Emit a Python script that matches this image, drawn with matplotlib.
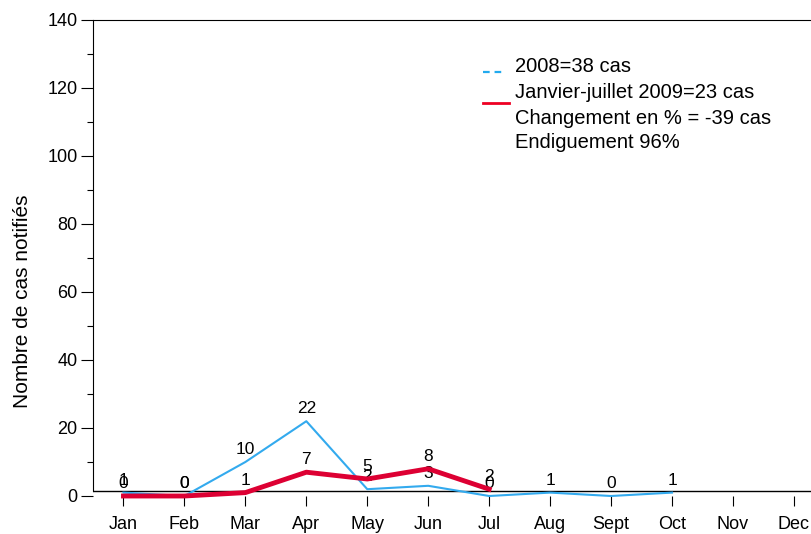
import numpy as np
import matplotlib
matplotlib.use('Agg')
import matplotlib.pyplot as plt
from matplotlib.lines import Line2D

plt.rcParams['font.family'] = ['Liberation Sans', 'DejaVu Sans']

# 月份
months = ['Jan', 'Feb', 'Mar', 'Apr', 'May', 'Jun', 'Jul', 'Aug', 'Sept', 'Oct', 'Nov', 'Dec']
# 2008 病例
cases_2008 = [1, 0, 10, 22, 2, 3, 0, 1, 0, 1]
# 2009 一月到七月
cases_2009 = [0, 0, 1, 7, 5, 8, 2]

legend_labels = ['2008=38 cas', 'Janvier-juillet 2009=23 cas',
                 'Changement en % = -39 cas', 'Endiguement 96%']

W, H = 811, 534
fig = plt.figure(figsize=(W / 100, H / 100), dpi=100)
ax = fig.add_axes([93 / W, 38 / H, 1 - 93 / W, 476 / H])

x08 = np.arange(len(cases_2008))
x09 = np.arange(len(cases_2009))
ax.plot(x08, cases_2008, color='#33aaee', lw=1.5, clip_on=False, zorder=3)
ax.plot(x09, cases_2009, color='#dd0033', lw=3.5, clip_on=False, zorder=4)

# 数据标签
for x, v in zip(x08, cases_2008):
    ax.annotate(str(v), (x, v), xytext=(0, 3.5), textcoords='offset points',
                ha='center', va='bottom', fontsize=12.5)
for x, v in zip(x09, cases_2009):
    ax.annotate(str(v), (x, v), xytext=(0, 3.5), textcoords='offset points',
                ha='center', va='bottom', fontsize=12.5)

ax.set_xlim(-0.5, 11.28)
ax.set_ylim(0, 140)
ax.set_xticks(np.arange(len(months)))
ax.set_xticklabels(months)
ax.set_yticks(np.arange(0, 141, 20))
ax.set_yticks(np.arange(10, 140, 20), minor=True)

ax.spines['right'].set_visible(False)
ax.spines['bottom'].set_visible(False)
ax.spines['left'].set_bounds(1.4, 140)
ax.axhline(1.4, color='black', lw=1, zorder=2)

ax.tick_params(axis='x', direction='out', length=7.2, width=0.8, pad=7, labelsize=13)
ax.tick_params(axis='y', which='major', direction='out', length=9, width=0.8, pad=2, labelsize=13)
ax.tick_params(axis='y', which='minor', direction='out', length=4, width=0.8)

fig.text(23 / W, 1 - 301 / H, 'Nombre de cas notifiés', rotation=90,
         ha='center', va='center', fontsize=15)

# 图例（手动）
text_y = [66, 92, 118, 143]
for lab, ty in zip(legend_labels, text_y):
    fig.text(515 / W, 1 - ty / H, lab, ha='left', va='center', fontsize=14.5)
fig.add_artist(Line2D([483 / W, 502 / W], [1 - 72 / H, 1 - 72 / H], color='#22aaee',
                      lw=1.6, linestyle=(0, (3, 2.2)), transform=fig.transFigure))
fig.add_artist(Line2D([483 / W, 509 / W], [1 - 103 / H, 1 - 103 / H], color='#ee0022',
                      lw=2, transform=fig.transFigure))

plt.savefig('out.png', dpi=100)
